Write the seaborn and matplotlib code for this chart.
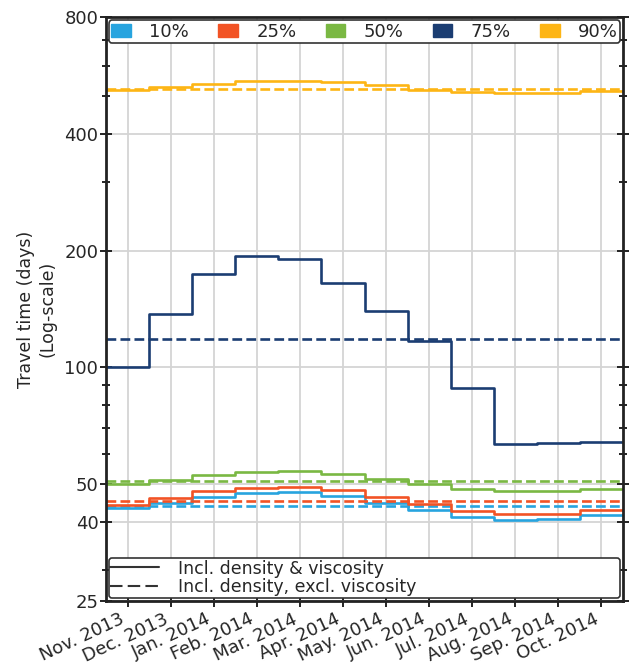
import numpy as np
import pandas as pd
import matplotlib
matplotlib.use("Agg")
import matplotlib.pyplot as plt
import matplotlib.ticker as mticker
from matplotlib.patches import Patch
from matplotlib.lines import Line2D
import seaborn as sns

# Monthly travel-time percentiles (days)
months = ["Nov. 2013", "Dec. 2013", "Jan. 2014", "Feb. 2014", "Mar. 2014", "Apr. 2014",
          "May. 2014", "Jun. 2014", "Jul. 2014", "Aug. 2014", "Sep. 2014", "Oct. 2014"]
percentiles = ["10%", "25%", "50%", "75%", "90%"]

p10 = [43.3, 44.8, 46.4, 47.5, 47.8, 46.7, 44.8, 42.8, 41.1, 40.4, 40.6, 41.6]
p25 = [44.3, 46.1, 47.9, 49.0, 49.3, 48.3, 46.4, 44.6, 42.6, 41.8, 42.0, 42.9]
p50 = [50.0, 51.4, 52.7, 53.8, 54.0, 53.0, 51.6, 50.0, 48.6, 48.0, 48.0, 48.5]
p75 = [100.0, 137.0, 174.0, 194.0, 190.0, 165.0, 140.0, 117.0, 88.7, 63.4, 63.8, 64.2]
p90 = [520.0, 527.0, 537.0, 547.0, 548.0, 545.0, 534.0, 520.0, 513.0, 510.0, 511.0, 515.0]

# Constant travel times when viscosity is excluded
const_excl_visc = [44.0, 45.4, 50.9, 118.7, 522.0]

colors = ["#27a4df", "#f25325", "#7ab843", "#1b3d72", "#fdb515"]

monthly = [p10, p25, p50, p75, p90]

# Build a long table: month edges for step lines
edges = np.arange(len(months) + 1) - 0.5
rows = []
for pct, vals, c in zip(percentiles, monthly, const_excl_visc):
    stepped = list(vals) + [vals[-1]]
    for x, v in zip(edges, stepped):
        rows.append({"x": x, "days": v, "pct": pct, "kind": "incl"})
    for x in (edges[0], edges[-1]):
        rows.append({"x": x, "days": c, "pct": pct, "kind": "excl"})
df = pd.DataFrame(rows)

sns.set_style("whitegrid", {"grid.color": "#d4d4d4", "axes.edgecolor": "#222222"})
plt.rcParams["font.family"] = ["DejaVu Sans"]

fig = plt.figure(figsize=(6.29, 6.65), dpi=100)
ax = fig.add_axes([0.1685, 0.0962, 0.822, 0.878])

sns.lineplot(data=df, x="x", y="days", hue="pct", style="kind",
             palette=dict(zip(percentiles, colors)),
             dashes={"incl": "", "excl": (3.7, 1.6)},
             style_order=["incl", "excl"],
             drawstyle="steps-post", estimator=None, sort=True,
             linewidth=1.9, legend=False, ax=ax)

ax.set_yscale("log")
ax.set_ylim(25, 800)
ax.set_xlim(-0.5, 11.5)
ax.yaxis.set_major_locator(mticker.FixedLocator([25, 40, 50, 100, 200, 400, 800]))
ax.yaxis.set_major_formatter(mticker.FormatStrFormatter("%d"))
ax.yaxis.set_minor_locator(mticker.LogLocator(base=10, subs=np.arange(2, 10)))
ax.yaxis.set_minor_formatter(mticker.NullFormatter())

ax.set_xticks(np.arange(len(months)))
ax.set_xticklabels(months, rotation=25, ha="right", fontsize=13)
ax.tick_params(axis="y", labelsize=13, pad=1)
ax.tick_params(axis="x", pad=2)
ax.tick_params(which="both", direction="inout", length=9, width=1.4, color="#222222",
               left=True, right=True, bottom=True, top=False)
ax.tick_params(which="minor", length=6)
ax.grid(True, which="major", color="#d4d4d4", linewidth=1.3)
ax.grid(False, which="minor")

for s in ax.spines.values():
    s.set_linewidth(2.0)
    s.set_color("#222222")

ax.set_xlabel("")
ax.set_ylabel("Travel time (days)\n(Log-scale)", fontsize=12.5, labelpad=6)

pct_handles = [Patch(facecolor=c, edgecolor=c, label=p) for p, c in zip(percentiles, colors)]
leg1 = ax.legend(handles=pct_handles, loc="upper left", bbox_to_anchor=(0.005, 0.995, 0.99, 0),
                 mode="expand", ncol=5, fontsize=13, handlelength=1.1, handleheight=0.8,
                 handletextpad=1.0, borderpad=0.15, borderaxespad=0.0, fancybox=True,
                 framealpha=1.0, edgecolor="#333333")
leg1.get_frame().set_linewidth(1.2)
ax.add_artist(leg1)

style_handles = [Line2D([0], [0], color="#333333", lw=1.5, ls="-"),
                 Line2D([0], [0], color="#333333", lw=1.5, ls=(0, (6, 2.5)))]
leg2 = ax.legend(handles=style_handles,
                 labels=["Incl. density & viscosity", "Incl. density, excl. viscosity"],
                 loc="lower left", bbox_to_anchor=(0.005, 0.005, 0.99, 0), mode="expand",
                 ncol=1, fontsize=12.5, handlelength=2.8, handletextpad=1.1,
                 borderpad=0.1, labelspacing=0.05, borderaxespad=0.0, fancybox=True,
                 framealpha=1.0, edgecolor="#333333")
leg2.get_frame().set_linewidth(1.2)

fig.savefig("out.png", dpi=100)
